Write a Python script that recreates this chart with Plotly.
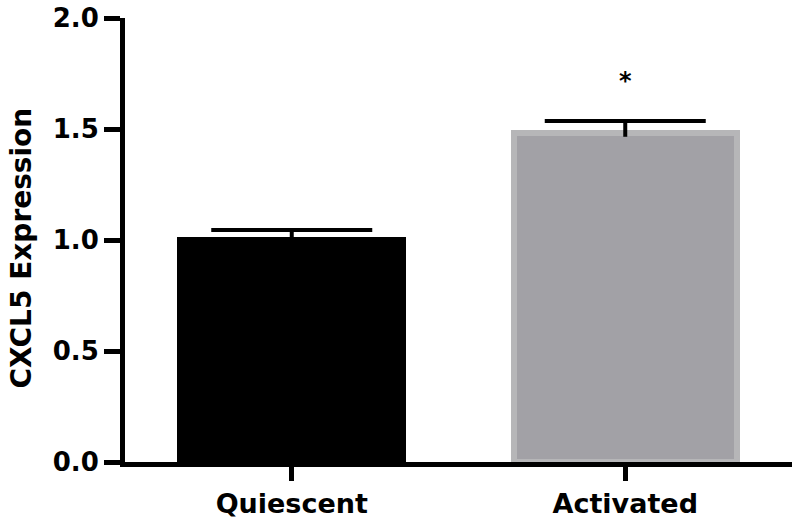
import plotly.graph_objects as go

categories = ["Quiescent", "Activated"]
means = [1.0, 1.48]
errors = [0.045, 0.056]
bar_colors = ["#000000", "#a2a1a6"]
bar_edge_colors = ["#000000", "#b6b6b8"]
y_ticks = [0.0, 0.5, 1.0, 1.5, 2.0]
y_title = "CXCL5 Expression"
sig_label = "*"
sig_y = 1.715

FONT = "DejaVu Sans"

err_tops = [m + e for m, e in zip(means, errors)]

fig = go.Figure()
fig.add_trace(go.Bar(
    x=categories,
    y=means,
    width=0.67,
    marker=dict(color=bar_colors, line=dict(color=bar_edge_colors, width=6)),
    error_y=dict(type="data", symmetric=False, array=errors, arrayminus=[0.015, 0.015],
                 color="#000000", thickness=4, width=0),
    showlegend=False,
))
# error bar caps (upper only)
fig.add_trace(go.Scatter(
    x=categories, y=err_tops, mode="markers",
    marker=dict(symbol="line-ew", size=115, color="#000000",
                line=dict(color="#000000", width=4)),
    showlegend=False, hoverinfo="skip",
))

fig.add_annotation(x=categories[1], y=sig_y, text=sig_label, showarrow=False,
                   font=dict(family=FONT, size=24, color="#000000", weight="bold"),
                   yanchor="middle")

# y-axis title placed as a rotated annotation
fig.add_annotation(xref="paper", yref="paper", x=-0.155, y=0.482, text=y_title,
                   textangle=-90, showarrow=False, xanchor="center", yanchor="middle",
                   font=dict(family=FONT, size=28, color="#000000", weight="bold"))

fig.update_layout(
    width=800, height=521,
    margin=dict(l=125, r=8, t=18, b=59),
    paper_bgcolor="white", plot_bgcolor="white",
    font=dict(family=FONT, size=27, color="#000000", weight="bold"),
    bargap=0,
)
fig.update_xaxes(
    range=[-0.5, 1.5], automargin=False,
    showline=True, linecolor="#000000", linewidth=5,
    ticks="outside", ticklen=14, tickwidth=5, tickcolor="#000000",
    showgrid=False, zeroline=False,
    tickfont=dict(family=FONT, size=27, color="#000000", weight="bold"),
)
fig.update_yaxes(
    range=[0, 2.0], automargin=False, ticklabeloverflow="allow",
    tickvals=y_ticks, tickformat=".1f",
    showline=True, linecolor="#000000", linewidth=5,
    ticks="outside", ticklen=16, tickwidth=5, tickcolor="#000000",
    showgrid=False, zeroline=False,
    tickfont=dict(family=FONT, size=26, color="#000000", weight="bold"),
)

# remove the default page margin so the 800x521 figure fills the window exactly
fig.write_html("out.html", config={"displayModeBar": False},
               post_script="document.body.style.margin='0';")
